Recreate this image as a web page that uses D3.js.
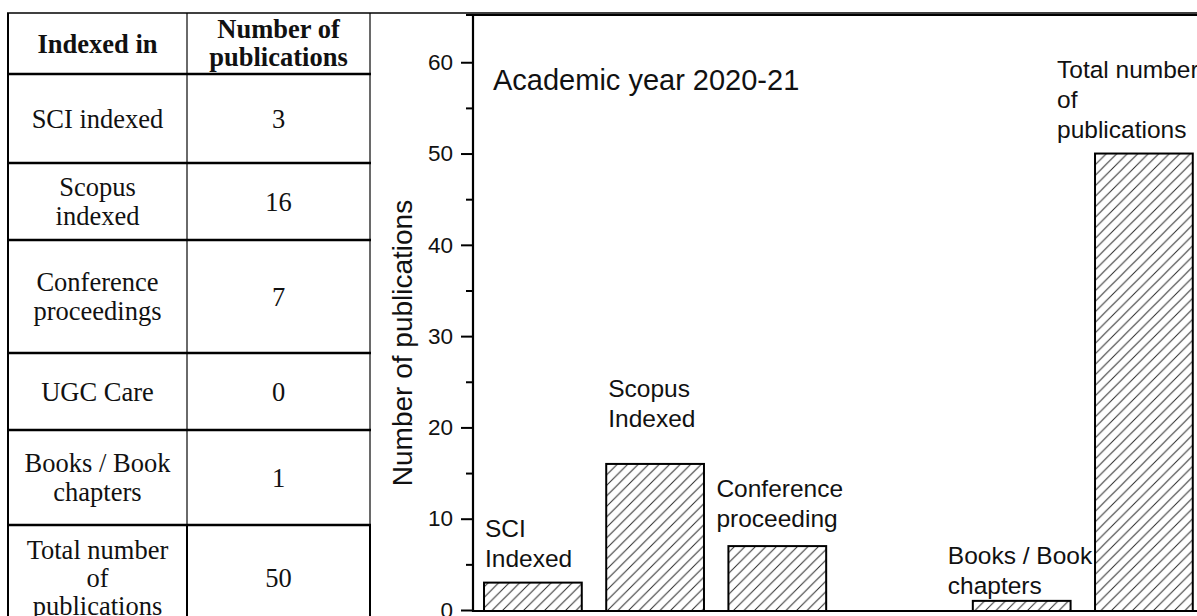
<!DOCTYPE html>
<html><head><meta charset="utf-8">
<script src="https://cdn.jsdelivr.net/npm/d3@7"></script>
<style>
html,body{margin:0;padding:0;background:#fff;overflow:hidden}
</style></head><body>
<svg id="c" width="1197" height="616"></svg>
<script>
// ---------- data ----------
const tableHeaders = [["Indexed in"], ["Number of", "publications"]];
const tableCategories = [["SCI indexed"], ["Scopus", "indexed"], ["Conference", "proceedings"], ["UGC Care"], ["Books / Book", "chapters"], ["Total number", "of", "publications"]];
const tableValues = [3, 16, 7, 0, 1, 50];
const barCategories = ["SCI Indexed", "Scopus Indexed", "Conference proceeding", "UGC Care", "Books / Book chapters", "Total number of publications"];
const barValues = [3, 16, 7, 0, 1, 50];
const barLabels = [["SCI", "Indexed"], ["Scopus", "Indexed"], ["Conference", "proceeding"], [], ["Books / Book", "chapters"], ["Total number", "of", "publications"]];
const yTicks = [0, 10, 20, 30, 40, 50, 60];
const yMinorTicks = [5, 15, 25, 35, 45, 55];
const chartTitle = "Academic year 2020-21";
const yAxisTitle = "Number of publications";

// ---------- layout ----------
const svg = d3.select("#c");
const tbl = {left: 8, mid: 187, right: 370, rows: [13, 74, 163, 240, 353, 430, 525, 630]};
const labelOffsets = [[1, -16], [2, -37], [-12, -19], [0, 0], [-25, -7], [-38, -16]];
const lineH = 30;

// ---------- table ----------
const serif = "'Liberation Serif','Times New Roman',serif";
const tg = svg.append("g");
function cellText(lines, cx, top, bottom, bold, lh) {
  const n = lines.length;
  const mid = (top + bottom) / 2;
  const first = mid - (n - 1) * lh / 2 + 9;
  lines.forEach((t, i) => {
    tg.append("text").attr("x", cx).attr("y", first + i * lh)
      .attr("text-anchor", "middle").attr("font-family", serif)
      .attr("font-size", 26.5).attr("font-weight", bold ? "bold" : "normal")
      .attr("fill", "#111").text(t);
  });
}
const c1 = (tbl.left + tbl.mid) / 2, c2 = (tbl.mid + tbl.right) / 2;
cellText(tableHeaders[0], c1, tbl.rows[0], tbl.rows[1], true, 29);
cellText(tableHeaders[1], c2, tbl.rows[0] - 1, tbl.rows[1], true, 28);
tableCategories.forEach((lines, i) => {
  cellText(lines, c1, tbl.rows[i + 1], tbl.rows[i + 2], false, i === 5 ? 28 : 29);
  cellText([String(tableValues[i])], c2, tbl.rows[i + 1], tbl.rows[i + 2], false, 29);
});
// lines
const last = tbl.rows[tbl.rows.length - 2];
[tbl.mid, tbl.right].forEach(x => {
  tg.append("line").attr("x1", x).attr("x2", x).attr("y1", tbl.rows[0]).attr("y2", last)
    .attr("stroke", "#6a6a6a").attr("stroke-width", 2);
  tg.append("line").attr("x1", x).attr("x2", x).attr("y1", last).attr("y2", 640)
    .attr("stroke", "#000").attr("stroke-width", 2);
});
tg.append("line").attr("x1", tbl.left).attr("x2", tbl.left).attr("y1", tbl.rows[0]).attr("y2", 640)
  .attr("stroke", "#000").attr("stroke-width", 2);
tbl.rows.slice(1, -1).forEach(y => {
  tg.append("line").attr("x1", tbl.left - 1).attr("x2", tbl.right + 1).attr("y1", y).attr("y2", y)
    .attr("stroke", "#000").attr("stroke-width", 2.5);
});
// top rule across page
tg.append("line").attr("x1", tbl.left - 1).attr("x2", 1197).attr("y1", 13).attr("y2", 13)
  .attr("stroke", "#000").attr("stroke-width", 1.6);

// ---------- chart ----------
const sans = "'Liberation Sans',Arial,sans-serif";
const axisX = 473, axisY = 611, frameTop = 15;
const y = d3.scaleLinear().domain([0, 65]).range([610, 16.6]);
const x = d3.scaleBand().domain(barCategories).range([471.8, 1205]).paddingInner(0.2).paddingOuter(0.1);

const defs = svg.append("defs");
const s = 10.5;
const pat = defs.append("pattern").attr("id", "hatch").attr("patternUnits", "userSpaceOnUse")
  .attr("width", s).attr("height", s);
pat.append("rect").attr("width", s).attr("height", s).attr("fill", "#fff");
pat.append("path").attr("d", `M0,${s} L${s},0 M${-s/4},${s/4} L${s/4},${-s/4} M${s*3/4},${s*5/4} L${s*5/4},${s*3/4}`)
  .attr("stroke", "#2a2a2a").attr("stroke-width", 1);

const cg = svg.append("g");
cg.selectAll("rect.bar").data(barValues.map((v, i) => ({v, c: barCategories[i]})).filter(d => d.v > 0))
  .join("rect").attr("class", "bar")
  .attr("x", d => x(d.c)).attr("width", x.bandwidth())
  .attr("y", d => y(d.v)).attr("height", d => axisY - y(d.v))
  .attr("fill", "url(#hatch)").attr("stroke", "#000").attr("stroke-width", 2);

// axis ticks
const ax = cg.append("g").attr("transform", `translate(${axisX},0)`)
  .call(d3.axisLeft(y).tickValues(yTicks).tickSize(12).tickPadding(8).tickFormat(d3.format("d")));
ax.select(".domain").remove();
ax.selectAll(".tick line").attr("stroke", "#000").attr("stroke-width", 2);
ax.selectAll(".tick text").attr("font-family", sans).attr("font-size", 22.5).attr("fill", "#111");
const axm = cg.append("g").attr("transform", `translate(${axisX},0)`)
  .call(d3.axisLeft(y).tickValues(yMinorTicks).tickSize(7).tickFormat(""));
axm.select(".domain").remove();
axm.selectAll(".tick line").attr("stroke", "#000").attr("stroke-width", 2);

// frame
cg.append("line").attr("x1", axisX).attr("x2", axisX).attr("y1", frameTop).attr("y2", axisY + 1)
  .attr("stroke", "#000").attr("stroke-width", 2.2);
cg.append("line").attr("x1", axisX - 1).attr("x2", 1197).attr("y1", axisY).attr("y2", axisY)
  .attr("stroke", "#000").attr("stroke-width", 2.2);
cg.append("line").attr("x1", 466).attr("x2", 1197).attr("y1", frameTop).attr("y2", frameTop)
  .attr("stroke", "#000").attr("stroke-width", 2.2);

// y title
cg.append("text").attr("transform", `translate(412,343) rotate(-90)`)
  .attr("text-anchor", "middle").attr("font-family", sans).attr("font-size", 28).attr("fill", "#111")
  .text(yAxisTitle);

// chart title
cg.append("text").attr("x", 493).attr("y", 90).attr("font-family", sans).attr("font-size", 29)
  .attr("fill", "#111").text(chartTitle);

// bar labels
barLabels.forEach((lines, i) => {
  if (!lines.length) return;
  const [dx, dy] = labelOffsets[i];
  const lastBase = y(barValues[i]) + dy;
  const x0 = x(barCategories[i]) + dx;
  lines.forEach((t, j) => {
    cg.append("text").attr("x", x0).attr("y", lastBase - (lines.length - 1 - j) * lineH)
      .attr("font-family", sans).attr("font-size", 24.5).attr("fill", "#111").text(t);
  });
});
</script>
</body></html>
